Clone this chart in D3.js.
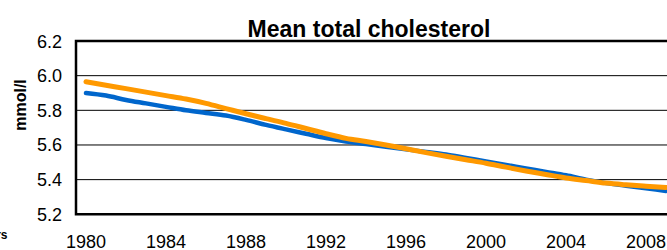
<!DOCTYPE html>
<html>
<head>
<meta charset="utf-8">
<script src="https://cdn.jsdelivr.net/npm/d3@7"></script>
<style>
  body { margin: 0; background: #fff; }
  svg { display: block; font-family: "Liberation Sans", Arial, sans-serif; }
</style>
</head>
<body>
<svg id="chart" width="667" height="250"></svg>
<script>
// data
var years = [1980, 1981, 1982, 1983, 1984, 1985, 1986, 1987, 1988, 1989,
             1990, 1991, 1992, 1993, 1994, 1995, 1996, 1997, 1998, 1999,
             2000, 2001, 2002, 2003, 2004, 2005, 2006, 2007, 2008, 2009];
var blueValues = [5.90, 5.885, 5.86, 5.84, 5.82, 5.80, 5.785, 5.77, 5.745, 5.716,
                  5.69, 5.665, 5.64, 5.62, 5.605, 5.59, 5.575, 5.56, 5.545, 5.525,
                  5.505, 5.485, 5.465, 5.445, 5.425, 5.40, 5.38, 5.365, 5.35, 5.335];
var orangeValues = [5.965, 5.945, 5.925, 5.905, 5.885, 5.865, 5.84, 5.81, 5.78, 5.752,
                    5.725, 5.695, 5.665, 5.638, 5.62, 5.60, 5.578, 5.556, 5.535, 5.515,
                    5.495, 5.472, 5.45, 5.43, 5.41, 5.395, 5.38, 5.37, 5.362, 5.355];
var yTicks = [5.2, 5.4, 5.6, 5.8, 6.0, 6.2];
var xTicks = [1980, 1984, 1988, 1992, 1996, 2000, 2004, 2008];
var title = "Mean total cholesterol";
var yTitle = "mmol/l";
var xTitle = "Years";

var svg = d3.select("#chart");

// plot area (right edge runs past the window, as in the reference)
var plotLeft = 76, plotTop = 41, plotBottom = 214.3, plotRight = 706;

var x = d3.scaleLinear().domain([1979.5, 2011]).range([plotLeft, plotRight]);
var y = d3.scaleLinear().domain([5.2, 6.2]).range([plotBottom, plotTop]);

// gridlines
svg.append("g")
    .selectAll("line")
    .data(yTicks.filter(d => d > 5.2 && d < 6.2))
    .enter()
    .append("line")
    .attr("x1", plotLeft)
    .attr("x2", plotRight)
    .attr("y1", d => y(d))
    .attr("y2", d => y(d))
    .attr("stroke", "#000")
    .attr("stroke-width", 1);

// series lines
var line = d3.line()
    .curve(d3.curveMonotoneX)
    .x((d, i) => x(years[i]))
    .y(d => y(d));

svg.append("path")
    .datum(blueValues)
    .attr("d", line)
    .attr("fill", "none")
    .attr("stroke", "#0066CC")
    .attr("stroke-width", 4.5)
    .attr("stroke-linecap", "round")
    .attr("stroke-linejoin", "round");

svg.append("path")
    .datum(orangeValues)
    .attr("d", line)
    .attr("fill", "none")
    .attr("stroke", "#FF9900")
    .attr("stroke-width", 5)
    .attr("stroke-linecap", "round")
    .attr("stroke-linejoin", "round");

// frame
svg.append("path")
    .attr("d", "M" + plotRight + "," + y(6.2) + "H" + plotLeft + "V" + y(5.2) + "H" + plotRight)
    .attr("fill", "none")
    .attr("stroke", "#000")
    .attr("stroke-width", 2.5);

// y axis labels
svg.append("g")
    .selectAll("text")
    .data(yTicks)
    .enter()
    .append("text")
    .attr("x", 62)
    .attr("y", d => y(d) + 6.5)
    .attr("text-anchor", "end")
    .attr("font-size", 18)
    .text(d => d3.format(".1f")(d));

// x axis labels
svg.append("g")
    .selectAll("text")
    .data(xTicks)
    .enter()
    .append("text")
    .attr("x", d => x(d))
    .attr("y", 247.5)
    .attr("text-anchor", "middle")
    .attr("font-size", 18)
    .text(d => d);

// titles
svg.append("text")
    .attr("x", 369)
    .attr("y", 36.5)
    .attr("text-anchor", "middle")
    .attr("font-size", 23)
    .attr("font-weight", "bold")
    .text(title);

svg.append("text")
    .attr("transform", "translate(26,105) rotate(-90)")
    .attr("text-anchor", "middle")
    .attr("font-size", 16)
    .attr("font-weight", "bold")
    .text(yTitle);

svg.append("text")
    .attr("x", 7.5)
    .attr("y", 239)
    .attr("text-anchor", "end")
    .attr("font-size", 12)
    .attr("font-weight", "bold")
    .text(xTitle);
</script>
</body>
</html>
